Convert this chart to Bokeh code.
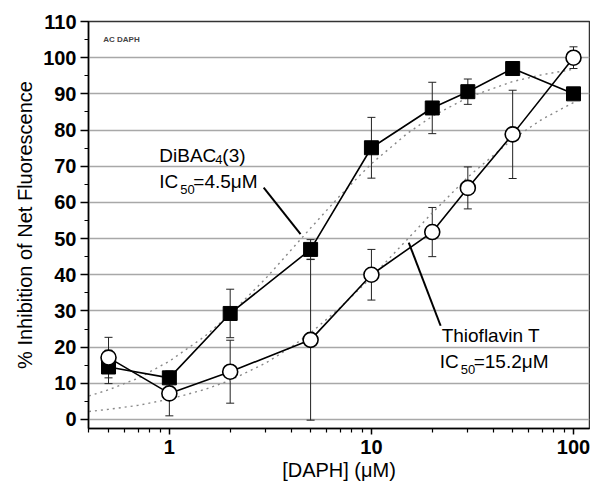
from bokeh.plotting import figure
from bokeh.models import (Range1d, FixedTicker, Whisker, TeeHead, ColumnDataSource,
                          Label, NumeralTickFormatter)
from bokeh.embed import file_html
from bokeh.resources import INLINE

# ---- data ----
conc = [0.5, 1, 2, 5, 10, 20, 30, 50, 100]
dibac = [14.5, 11.5, 29.3, 47, 75.1, 86.1, 90.6, 97, 90]
dibac_err = [4.6, 1.5, 6.7, 2.7, 8.4, 7.1, 3.5, 1.5, 1.5]
thio = [17.1, 7.2, 13.2, 22, 40, 51.8, 64, 78.8, 100]
thio_err = [5.6, 6.2, 8.7, 22.2, 7.0, 6.8, 5.8, 12.2, 3.0]

fit_x = [0.4, 0.5, 0.7, 1, 1.5, 2, 3, 4, 5, 7, 10, 15, 20, 30, 50, 70, 100]
dibac_fit = [6.5, 8.2, 11.4, 16.1, 23.0, 29.1, 39.0, 46.8, 52.9, 61.9, 70.7, 79.0,
             83.8, 89.0, 93.4, 95.3, 96.8]
thio_fit = [2.2, 2.8, 3.9, 5.6, 8.3, 10.8, 15.6, 20.0, 23.9, 30.9, 39.3, 49.7,
            57.1, 67.0, 77.5, 83.0, 87.6]

x_ticks = [1, 10, 100]
x_minor = [0.4, 0.5, 0.6, 0.7, 0.8, 0.9, 2, 3, 4, 5, 6, 7, 8, 9,
           20, 30, 40, 50, 60, 70, 80, 90]
y_ticks = [0, 10, 20, 30, 40, 50, 60, 70, 80, 90, 100, 110]
y_minor = [5, 15, 25, 35, 45, 55, 65, 75, 85, 95, 105]

# leader lines (annotation anchors)
lead1_x = [2.93, 4.46]
lead1_y = [64.1, 51.2]
lead2_x = [15.3, 22.0]
lead2_y = [48.9, 25.9]

FONT = "Liberation Sans"

p = figure(frame_width=501, frame_height=407, x_axis_type="log",
           x_range=Range1d(0.398, 120), y_range=Range1d(-2.5, 110),
           output_backend="svg", toolbar_location=None,
           min_border_left=88, min_border_right=1, min_border_top=21,
           min_border_bottom=58)
p.background_fill_color = "white"
p.border_fill_color = "white"
p.outline_line_color = "#333333"
p.outline_line_width = 1.5

# axes
p.xaxis.ticker = FixedTicker(ticks=x_ticks, minor_ticks=x_minor)
p.xaxis.formatter = NumeralTickFormatter(format="0")
p.yaxis.ticker = FixedTicker(ticks=y_ticks, minor_ticks=y_minor)
for ax in (p.xaxis, p.yaxis):
    ax.axis_line_color = "black"
    ax.axis_line_width = 1.5
    ax.major_tick_line_color = "black"
    ax.major_tick_line_width = 1.5
    ax.minor_tick_line_color = "black"
    ax.minor_tick_line_width = 1.2
    ax.major_tick_in = 0
    ax.minor_tick_in = 0
    ax.major_label_text_font = FONT
    ax.major_label_text_font_style = "bold"
    ax.major_label_text_font_size = "20px"
    ax.major_label_text_color = "black"
    ax.axis_label_text_font = FONT
    ax.axis_label_text_font_style = "normal"
    ax.axis_label_text_font_size = "20px"
    ax.axis_label_text_color = "black"
p.xaxis.major_tick_out = 6
p.xaxis.minor_tick_out = 4
p.yaxis.major_tick_out = 8
p.yaxis.minor_tick_out = 4
p.xaxis.major_label_standoff = 5
p.yaxis.major_label_standoff = 4
p.xaxis.axis_label = "[DAPH] (\u03bcM)"
p.yaxis.axis_label = "% Inhibition of Net Fluorescence"
p.xaxis.axis_label_standoff = 2
p.yaxis.axis_label_standoff = 4

p.xgrid.visible = False
p.ygrid.ticker = FixedTicker(ticks=y_ticks[:-1])
p.ygrid.grid_line_color = "#a8a8a8"
p.ygrid.grid_line_width = 1.3

# sources
src_d = ColumnDataSource(dict(x=conc, y=dibac,
                              lo=[v - e for v, e in zip(dibac, dibac_err)],
                              hi=[v + e for v, e in zip(dibac, dibac_err)]))
src_t = ColumnDataSource(dict(x=conc, y=thio,
                              lo=[v - e for v, e in zip(thio, thio_err)],
                              hi=[v + e for v, e in zip(thio, thio_err)]))

for src in (src_d, src_t):
    w = Whisker(source=src, base="x", lower="lo", upper="hi",
                line_color="#222222", line_width=1,
                upper_head=TeeHead(size=8, line_color="#222222", line_width=1),
                lower_head=TeeHead(size=8, line_color="#222222", line_width=1),
                level="underlay")
    p.add_layout(w)

# fit curves (dotted)
p.line(fit_x, dibac_fit, line_color="#888888", line_width=1.4, line_dash="2 4")
p.line(fit_x, thio_fit, line_color="#888888", line_width=1.4, line_dash="2 4")

# connecting lines
p.line("x", "y", source=src_d, line_color="black", line_width=1.6)
p.line("x", "y", source=src_t, line_color="black", line_width=1.6)

# leader lines
p.line(lead1_x, lead1_y, line_color="black", line_width=2)
p.line(lead2_x, lead2_y, line_color="black", line_width=2)

# markers
p.scatter("x", "y", source=src_d, marker="square", size=14,
          fill_color="black", line_color="black")
p.scatter("x", "y", source=src_t, marker="circle", size=15,
          fill_color="white", line_color="black", line_width=1.6)

# annotations
def lab(x, y, text, size, dx=0, bold=False, color="black"):
    p.add_layout(Label(x=x, y=y, text=text, x_offset=dx, text_font=FONT,
                       text_font_size=size, text_color=color,
                       text_font_style="bold" if bold else "normal",
                       text_baseline="alphabetic", text_align="left"))

lab(0.892, 73.0, "DiBAC", "19px")
lab(0.892, 71.8, "4", "13px", dx=56)
lab(0.892, 73.0, "(3)", "19px", dx=63)
lab(0.892, 65.8, "IC", "19px")
lab(0.892, 63.5, "50", "13px", dx=21)
lab(0.892, 65.8, "=4.5\u03bcM", "19px", dx=34)

lab(22.26, 23.2, "Thioflavin T", "19px")
lab(22.26, 16.0, "IC", "19px", dx=-2)
lab(22.26, 13.7, "50", "13px", dx=19)
lab(22.26, 16.0, "=15.2\u03bcM", "19px", dx=32)

lab(0.471, 105.1, "AC DAPH", "8px", bold=True, color="#444444")

open("out.html", "w").write(file_html(p, INLINE))
